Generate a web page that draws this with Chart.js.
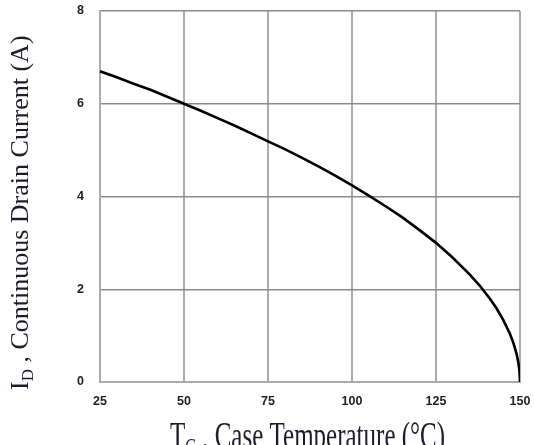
<!DOCTYPE html>
<html>
<head>
<meta charset="utf-8">
<script src="https://cdn.jsdelivr.net/npm/chart.js@4/dist/chart.umd.min.js"></script>
<style>
  html, body { margin: 0; padding: 0; background: #fff; }
  #wrap { width: 534px; height: 445px; position: relative; }
</style>
</head>
<body>
<div id="wrap"><canvas id="chart" width="534" height="445"></canvas></div>
<script>
// case temperature (deg C) and drain current (A)
const tempC = [25, 30, 35, 40, 45, 50, 55, 60, 65, 70, 75, 80, 85, 90, 95, 100,
  105, 110, 115, 120, 125, 130, 135, 138, 141, 143, 145, 147, 148, 149, 149.5, 149.8, 150];
const drainA = [6.70, 6.57, 6.43, 6.30, 6.15, 6.00, 5.85, 5.69, 5.53, 5.36, 5.19, 5.02,
  4.84, 4.65, 4.45, 4.24, 4.02, 3.79, 3.55, 3.28, 3.00, 2.68, 2.32, 2.08, 1.80, 1.59,
  1.34, 1.04, 0.85, 0.60, 0.42, 0.26, 0.00];
const xTicks = [25, 50, 75, 100, 125, 150];
const yTicks = [0, 2, 4, 6, 8];

const points = tempC.map((t, i) => ({ x: t, y: drainA[i] }));

// axis titles with subscripts, drawn on the canvas
const axisTitles = {
  id: 'axisTitles',
  afterDraw(chart) {
    const ctx = chart.ctx;
    ctx.save();
    ctx.fillStyle = '#1c1c2c';
    ctx.textBaseline = 'alphabetic';
    ctx.textAlign = 'left';

    // y title, rotated
    ctx.save();
    ctx.translate(28, 390);
    ctx.rotate(-Math.PI / 2);
    let x = 0;
    ctx.font = '26px "Liberation Serif"';
    ctx.fillText('I', x, 0);
    x += ctx.measureText('I').width;
    ctx.font = '17px "Liberation Serif"';
    ctx.fillText('D', x, 5);
    x += ctx.measureText('D').width;
    ctx.font = '26px "Liberation Serif"';
    ctx.fillText(' , Continuous Drain Current (A)', x, 0);
    ctx.restore();

    // x title, cut off at the bottom edge
    ctx.save();
    ctx.translate(170, 448);
    ctx.scale(1, 1.5);
    x = 0;
    ctx.font = '25px "Liberation Serif"';
    ctx.fillText('T', x, 0);
    x += ctx.measureText('T').width;
    ctx.font = '16px "Liberation Serif"';
    ctx.fillText('C', x, 4);
    x += ctx.measureText('C').width;
    ctx.font = '25px "Liberation Serif"';
    ctx.fillText(' , Case Temperature (\u00B0C)', x, 0);
    ctx.restore();

    ctx.restore();
  }
};

new Chart(document.getElementById('chart').getContext('2d'), {
  type: 'line',
  data: {
    datasets: [{
      data: points,
      borderColor: '#000',
      borderWidth: 2.6,
      pointRadius: 0,
      tension: 0,
      fill: false
    }]
  },
  options: {
    responsive: false,
    animation: false,
    layout: { padding: { top: 11, right: 14, left: 0, bottom: 0 } },
    plugins: { legend: { display: false }, tooltip: { enabled: false } },
    scales: {
      x: {
        type: 'linear',
        min: 25,
        max: 150,
        afterBuildTicks: (s) => { s.ticks = xTicks.map(v => ({ value: v })); },
        afterFit: (s) => { s.height = 63; s.paddingLeft = 0; s.paddingRight = 0; },
        grid: { color: '#ababab', lineWidth: 2, drawTicks: false },
        border: { color: '#ababab', width: 2 },
        ticks: {
          padding: 12,
          color: '#222',
          font: { family: '"Liberation Sans"', size: 12.5, weight: 'bold' }
        }
      },
      y: {
        min: 0,
        max: 8,
        afterBuildTicks: (s) => { s.ticks = yTicks.map(v => ({ value: v })); },
        afterFit: (s) => { s.width = 100; s.paddingTop = 0; s.paddingBottom = 0; },
        grid: { color: '#8a8a8a', lineWidth: 1.5, drawTicks: false },
        border: { color: '#ababab', width: 2 },
        ticks: {
          padding: 16,
          color: '#222',
          font: { family: '"Liberation Sans"', size: 12.5, weight: 'bold' }
        }
      }
    }
  },
  plugins: [axisTitles]
});
</script>
</body>
</html>
